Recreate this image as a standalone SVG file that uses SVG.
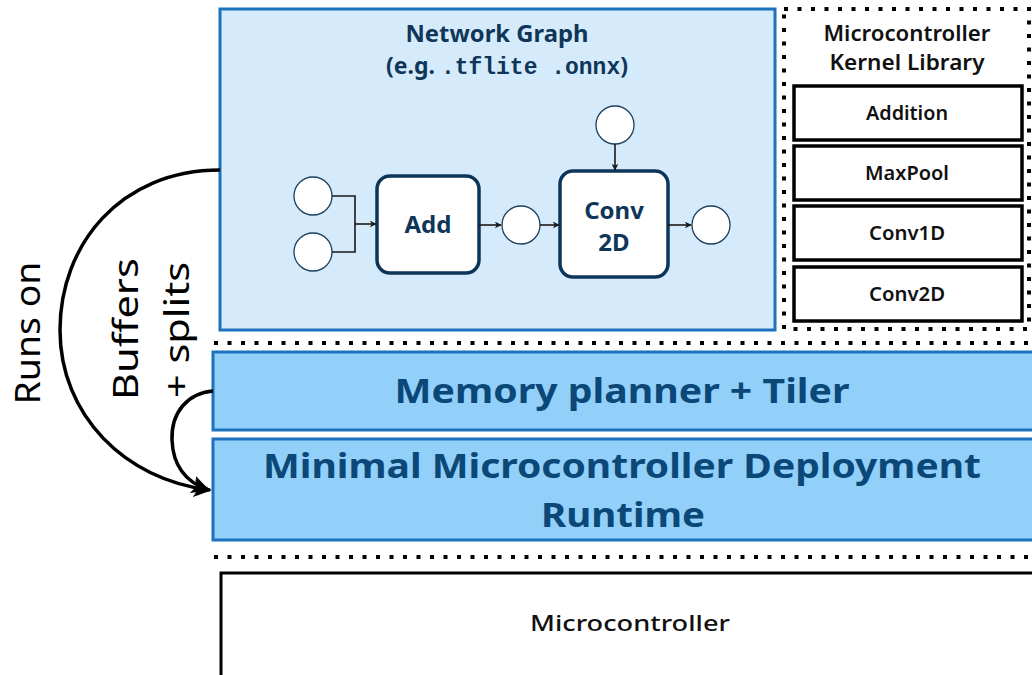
<svg xmlns="http://www.w3.org/2000/svg" width="1032" height="675" viewBox="0 0 1032 675">
  <style>
    .graph-box { fill: #d5ebfc; stroke: #1c72bd; stroke-width: 3; }
    .layer { fill: #92d0fa; stroke: #1c72bd; stroke-width: 3; }
    .op { fill: #ffffff; stroke: #0d3557; stroke-width: 3.5; }
    .tensor { fill: #ffffff; stroke: #1d3f5c; stroke-width: 1.3; }
    .kernel { fill: #ffffff; stroke: #000000; stroke-width: 3.5; }
    .dots { fill: none; stroke: #000000; stroke-width: 4; stroke-dasharray: 4 9.5; }
    .edge { fill: none; stroke: #1a1a1a; stroke-width: 1.6; }
    .flow { fill: none; stroke: #000000; stroke-width: 3.5; }
    .navy { fill: #0f3658; font-family: "Noto Sans", "Open Sans", sans-serif; font-weight: 700; }
    .deep { fill: #0b4878; font-family: "Noto Sans", "Open Sans", sans-serif; font-weight: 700; }
    .mono { font-family: "Liberation Mono", "DejaVu Sans Mono", monospace; font-weight: 700; }
    .ink { fill: #111111; font-family: "Noto Sans", "Open Sans", sans-serif; font-weight: 600; }
    .side { fill: #000000; font-family: "Noto Sans", "Open Sans", sans-serif; font-weight: 400; font-size: 34px; }
  </style>
  <defs>
    <marker id="tip" viewBox="0 0 10 10" refX="9" refY="5" markerWidth="7" markerHeight="7" orient="auto" markerUnits="userSpaceOnUse">
      <path d="M0,0 L10,5 L0,10 L3,5 z" fill="#1a1a1a"/>
    </marker>
    <marker id="bigtip" viewBox="0 0 10 10" refX="9" refY="5" markerWidth="18" markerHeight="18" orient="auto" markerUnits="userSpaceOnUse">
      <path d="M0,0 L10,5 L0,10 L2.5,5 z" fill="#000000"/>
    </marker>
  </defs>

  <!-- network graph panel -->
  <g id="network-graph">
    <rect class="graph-box" x="220" y="9" width="555" height="321"/>
    <text class="navy" x="497" y="42" font-size="23" text-anchor="middle" textLength="183" lengthAdjust="spacingAndGlyphs">Network Graph</text>
    <text class="navy" x="507" y="74" font-size="23" text-anchor="middle" textLength="242" lengthAdjust="spacingAndGlyphs">(e.g. <tspan class="mono">.tflite .onnx</tspan>)</text>
  </g>

  <g id="in-a"><circle class="tensor" cx="313" cy="196" r="19"/></g>
  <g id="in-b"><circle class="tensor" cx="313" cy="252" r="19"/></g>
  <g id="add-op">
    <rect class="op" x="377" y="176" width="102" height="97" rx="13"/>
    <text class="navy" x="428" y="233" font-size="24" text-anchor="middle">Add</text>
  </g>
  <g id="mid-tensor"><circle class="tensor" cx="521" cy="225" r="19"/></g>
  <g id="weight-tensor"><circle class="tensor" cx="615" cy="125" r="19"/></g>
  <g id="conv-op">
    <rect class="op" x="560" y="171" width="108" height="106" rx="13"/>
    <text class="navy" x="614" y="219" font-size="24" text-anchor="middle">Conv</text>
    <text class="navy" x="614" y="251" font-size="24" text-anchor="middle">2D</text>
  </g>
  <g id="out-tensor"><circle class="tensor" cx="711" cy="225" r="19"/></g>

  <!-- kernel library -->
  <g id="kernel-library">
    <rect class="dots" x="784" y="9" width="245" height="320"/>
    <text class="ink" x="907" y="41" font-size="21" text-anchor="middle" textLength="167" lengthAdjust="spacingAndGlyphs">Microcontroller</text>
    <text class="ink" x="907" y="70" font-size="21" text-anchor="middle" textLength="155" lengthAdjust="spacingAndGlyphs">Kernel Library</text>
  </g>
  <g id="k-addition">
    <rect class="kernel" x="794" y="86" width="228" height="54"/>
    <text class="ink" x="907" y="120" font-size="19" text-anchor="middle" textLength="82" lengthAdjust="spacingAndGlyphs">Addition</text>
  </g>
  <g id="k-maxpool">
    <rect class="kernel" x="794" y="146" width="228" height="54"/>
    <text class="ink" x="907" y="180" font-size="19" text-anchor="middle" textLength="84" lengthAdjust="spacingAndGlyphs">MaxPool</text>
  </g>
  <g id="k-conv1d">
    <rect class="kernel" x="794" y="206" width="228" height="54"/>
    <text class="ink" x="907" y="240" font-size="19" text-anchor="middle" textLength="76" lengthAdjust="spacingAndGlyphs">Conv1D</text>
  </g>
  <g id="k-conv2d">
    <rect class="kernel" x="794" y="267" width="228" height="54"/>
    <text class="ink" x="907" y="301" font-size="19" text-anchor="middle" textLength="76" lengthAdjust="spacingAndGlyphs">Conv2D</text>
  </g>

  <!-- layer separators -->
  <g id="separators">
    <line class="dots" x1="214" y1="343" x2="1032" y2="343"/>
    <line class="dots" x1="214" y1="557" x2="1032" y2="557"/>
  </g>

  <g id="memory-planner">
    <rect class="layer" x="213" y="352" width="830" height="78"/>
    <text class="deep" x="622" y="403" font-size="34" text-anchor="middle" textLength="455" lengthAdjust="spacingAndGlyphs">Memory planner + Tiler</text>
  </g>

  <g id="runtime">
    <rect class="layer" x="213" y="439" width="830" height="101"/>
    <text class="deep" x="622" y="478" font-size="34" text-anchor="middle" textLength="718" lengthAdjust="spacingAndGlyphs">Minimal Microcontroller Deployment</text>
    <text class="deep" x="623" y="527" font-size="34" text-anchor="middle" textLength="164" lengthAdjust="spacingAndGlyphs">Runtime</text>
  </g>

  <g id="microcontroller">
    <path d="M221,675 L221,573 L1040,573" fill="#ffffff" stroke="#000000" stroke-width="3"/>
    <text x="630" y="631" font-size="22" text-anchor="middle" fill="#111111" font-family="Noto Sans, Open Sans, sans-serif" font-weight="500" textLength="200" lengthAdjust="spacingAndGlyphs">Microcontroller</text>
  </g>

  <!-- side labels -->
  <g id="labels">
    <text class="side" transform="translate(40,333) rotate(-90)" text-anchor="middle" textLength="143" lengthAdjust="spacingAndGlyphs">Runs on</text>
    <text class="side" transform="translate(138,329) rotate(-90)" text-anchor="middle" textLength="142" lengthAdjust="spacingAndGlyphs">Buffers</text>
    <text class="side" transform="translate(189,330) rotate(-90)" text-anchor="middle" textLength="136" lengthAdjust="spacingAndGlyphs">+ splits</text>
  </g>

  <!-- connectors -->
  <g id="connectors">
    <path class="edge" d="M332,196 H355 V252 H332"/>
    <path class="edge" d="M355,224 H376" marker-end="url(#tip)"/>
    <path class="edge" d="M479,225 H501" marker-end="url(#tip)"/>
    <path class="edge" d="M540,225 H559" marker-end="url(#tip)"/>
    <path class="edge" d="M668,225 H691" marker-end="url(#tip)"/>
    <path class="edge" d="M615,144 V170" marker-end="url(#tip)"/>
    <path class="flow" d="M220,170 C120,170 60,245 60,330 C60,415 125,480 210,490" marker-end="url(#bigtip)"/>
    <path class="flow" d="M213,391 C188,393 171,412 172,440 C173,466 186,482 208,490" marker-end="url(#bigtip)"/>
  </g>
</svg>
